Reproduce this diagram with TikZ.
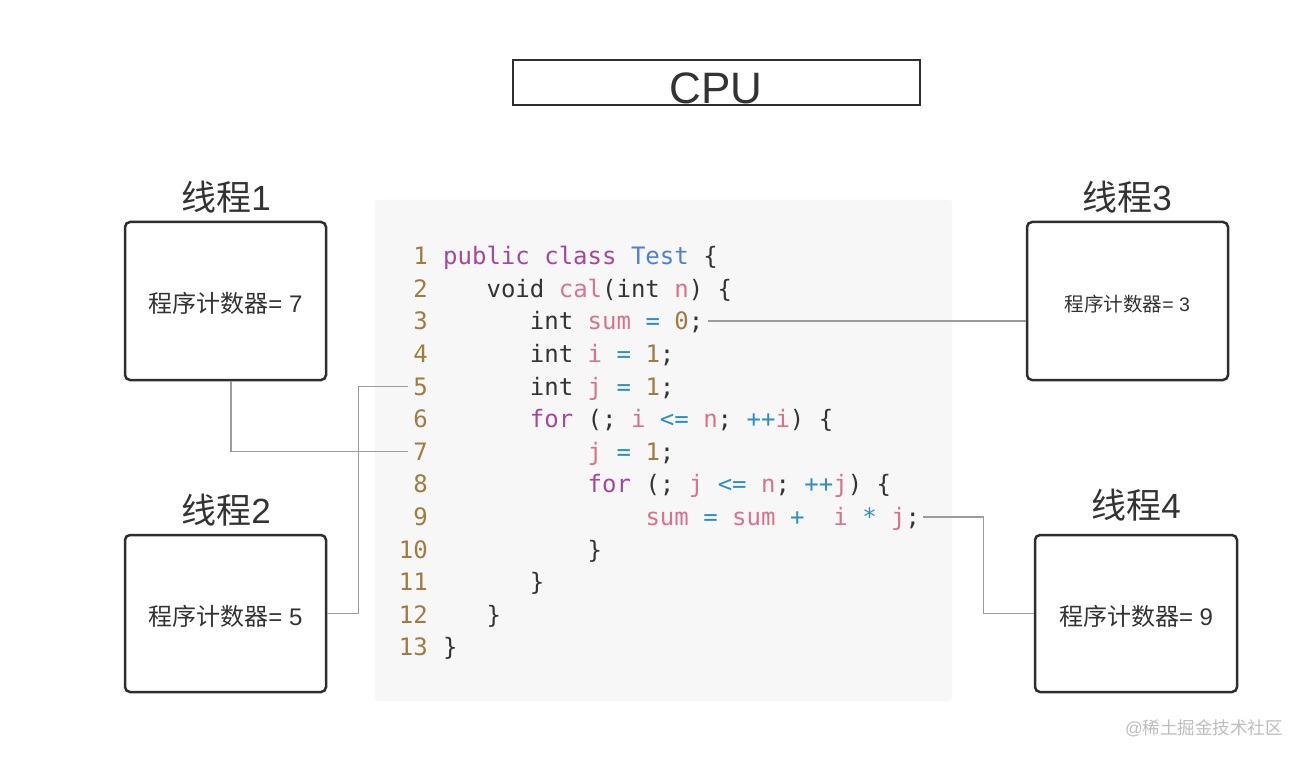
\documentclass[tikz,border=0pt]{standalone}
\usepackage{fontspec}
\setmainfont{Liberation Sans}
\newfontfamily\cjk{Noto Sans CJK SC}
\newfontfamily\codefont{DejaVu Sans Mono}
\usetikzlibrary{calc}
\definecolor{boxc}{HTML}{2E2E2E}
\definecolor{txt}{HTML}{333333}
\definecolor{linkc}{HTML}{9C9C9C}
\definecolor{bgc}{HTML}{F7F7F7}
\definecolor{numc}{HTML}{A07D3F}
\definecolor{kwc}{HTML}{A5469F}
\definecolor{tyc}{HTML}{4F7FD6}
\definecolor{vrc}{HTML}{D9738C}
\definecolor{opc}{HTML}{2F8FC2}
\definecolor{wmc}{HTML}{BDBDBD}
\newcommand\kw[1]{\textcolor{kwc}{#1}}
\newcommand\ty[1]{\textcolor{tyc}{#1}}
\newcommand\vr[1]{\textcolor{vrc}{#1}}
\newcommand\op[1]{\textcolor{opc}{#1}}
\newcommand\nm[1]{\textcolor{numc}{#1}}
\begin{document}
\begin{tikzpicture}[x=1pt,y=-1pt,
  threadbox/.style={draw=boxc, line width=2.5pt, rounded corners=5pt, minimum width=201pt, minimum height=157pt, inner sep=0pt},
  titletext/.style={font=\fontsize{35}{35}\selectfont, text=txt, anchor=base, inner sep=0pt},
  pctext/.style={font=\fontsize{24}{24}\selectfont, text=txt, anchor=base, inner sep=0pt},
  linenum/.style={font=\codefont\fontsize{24}{24}\selectfont, text=numc, anchor=base east, inner sep=0pt, text height=17.5pt, text depth=0pt},
  codeline/.style={font=\codefont\fontsize{24}{24}\selectfont, text=txt, anchor=base west, inner sep=0pt, text height=17.5pt, text depth=0pt},
  link/.style={draw=linkc, line width=1.5pt}]
\fill[white] (0,0) rectangle (1305,759);
\useasboundingbox (0,0) rectangle (1305,759);

% CPU
\node[draw=boxc, line width=2.5pt, minimum width=407pt, minimum height=45pt, inner sep=0pt] (cpu) at (716.5,82.5) {};
\node[font=\fontsize{44}{44}\selectfont, text=txt, anchor=base, inner sep=0pt] (cputext) at (716,103.5) {CPU};

% code background
\node[fill=bgc, rounded corners=3pt, minimum width=577pt, minimum height=501pt, inner sep=0pt] (codebg) at (663.5,450.5) {};

% line numbers
\node[linenum] (n1) at (428,264.75) {1};
\node[linenum] (n2) at (428,297.35) {2};
\node[linenum] (n3) at (428,329.95) {3};
\node[linenum] (n4) at (428,362.55) {4};
\node[linenum] (n5) at (428,395.15) {5};
\node[linenum] (n6) at (428,427.75) {6};
\node[linenum] (n7) at (428,460.35) {7};
\node[linenum] (n8) at (428,492.95) {8};
\node[linenum] (n9) at (428,525.55) {9};
\node[linenum] (n10) at (428,558.15) {10};
\node[linenum] (n11) at (428,590.75) {11};
\node[linenum] (n12) at (428,623.35) {12};
\node[linenum] (n13) at (428,655.95) {13};

% code
\node[codeline] (c1) at (443,264.75) {\kw{public} \kw{class} \ty{Test} \{};
\node[codeline] (c2) at (486.35,297.35) {void \vr{cal}(int \vr{n}) \{};
\node[codeline] (c3) at (529.7,329.95) {int \vr{sum} \op{=} \nm{0};};
\node[codeline] (c4) at (529.7,362.55) {int \vr{i} \op{=} \nm{1};};
\node[codeline] (c5) at (529.7,395.15) {int \vr{j} \op{=} \nm{1};};
\node[codeline] (c6) at (529.7,427.75) {\kw{for} (; \vr{i} \op{<=} \vr{n}; \op{++}\vr{i}) \{};
\node[codeline] (c7) at (587.5,460.35) {\vr{j} \op{=} \nm{1};};
\node[codeline] (c8) at (587.5,492.95) {\kw{for} (; \vr{j} \op{<=} \vr{n}; \op{++}\vr{j}) \{};
\node[codeline] (c9) at (645.3,525.55) {\vr{sum} \op{=} \vr{sum} \op{+}\ \ \vr{i} \op{*} \vr{j};};
\node[codeline] (c10) at (587.5,558.15) {\}};
\node[codeline] (c11) at (529.7,590.75) {\}};
\node[codeline] (c12) at (486.35,623.35) {\}};
\node[codeline] (c13) at (443,655.95) {\}};

% thread boxes
\node[threadbox, minimum height=158pt] (t1) at (225.5,301) {};
\node[threadbox] (t2) at (225.5,613.5) {};
\node[threadbox, minimum height=158pt] (t3) at (1127.5,301) {};
\node[threadbox, minimum width=202pt] (t4) at (1136,613.5) {};

% titles
\node[titletext] (h1) at (226,211) {{\cjk 线程}1};
\node[titletext] (h2) at (226,523) {{\cjk 线程}2};
\node[titletext] (h3) at (1127,211) {{\cjk 线程}3};
\node[titletext] (h4) at (1136,518) {{\cjk 线程}4};

% counters
\node[pctext] (p1) at (225.5,312) {{\cjk 程序计数器}= 7};
\node[pctext] (p2) at (225.5,625) {{\cjk 程序计数器}= 5};
\node[pctext, font=\fontsize{19.5}{19.5}\selectfont] (p3) at (1127.5,311) {{\cjk 程序计数器}= 3};
\node[pctext] (p4) at (1136,625) {{\cjk 程序计数器}= 9};

% connectors
\draw[link] ([xshift=5.5pt]t1.south) |- ([xshift=-5pt]n7.west);
\draw[link] (t2.east) -- ++(31,0) |- ([xshift=-5pt]n5.west);
\draw[link] ([xshift=4pt]c3.east) -- (c3.east -| t3.west);
\draw[link] ([xshift=3pt]c9.east) -- ([xshift=63pt]c9.east) |- (t4.west);

% watermark
\node[font=\fontsize{17.5}{17.5}\selectfont, text=wmc, anchor=base west, inner sep=0pt] (wm) at (1125,734.5) {@{\cjk 稀土掘金技术社区}};
\end{tikzpicture}
\end{document}
